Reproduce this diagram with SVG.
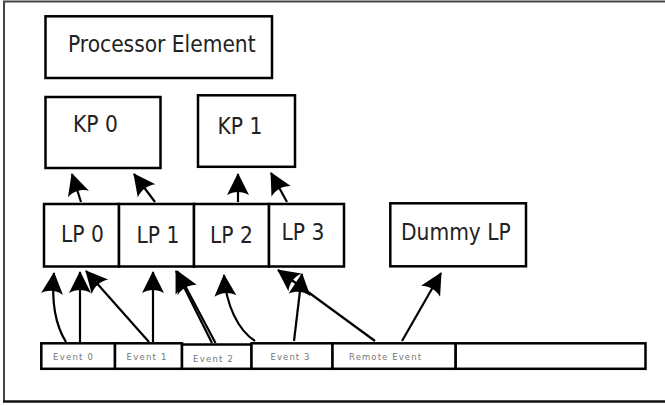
<svg xmlns="http://www.w3.org/2000/svg" width="665" height="406" viewBox="0 0 665 406">
<style>
.box{fill:#fff;stroke:#000;stroke-width:2.5}
.lbl{font-family:"DejaVu Sans Condensed","DejaVu Sans",sans-serif;font-stretch:condensed;font-size:22.5px;fill:#222}
.ev{font-family:"DejaVu Sans",sans-serif;font-size:8.5px;fill:#777}
.con{fill:none;stroke:#000;stroke-width:2.2;marker-end:url(#ah)}
</style>
<defs>
<marker id="ah" markerUnits="userSpaceOnUse" orient="auto" viewBox="-26 -13 30 26" markerWidth="30" markerHeight="26" refX="0" refY="0">
<path d="M1,0 L-21,-11 C-17,-4 -17,4 -21,11 Z" fill="#000"/>
</marker>
</defs>
<rect width="665" height="406" fill="#fff"/>
<path d="M4,402 L4,1.5 L665,1.5" fill="none" stroke="#444" stroke-width="2"/>
<path d="M3,401.5 L665,401.5" fill="none" stroke="#111" stroke-width="2.5"/>
<g id="pe"><rect class="box" x="45.5" y="16.3" width="226.5" height="61.7"/><text class="lbl" x="68" y="52">Processor Element</text></g>
<g id="kp0"><rect class="box" x="45.5" y="97" width="115" height="71"/><text class="lbl" x="73" y="132">KP 0</text></g>
<g id="kp1"><rect class="box" x="198" y="95.3" width="97" height="71.5"/><text class="lbl" x="217.5" y="134">KP 1</text></g>
<g id="lp0"><rect class="box" x="44" y="204" width="75" height="62.5"/><text class="lbl" x="61" y="241.5">LP 0</text></g>
<g id="lp1"><rect class="box" x="119" y="204" width="75" height="62.5"/><text class="lbl" x="136.5" y="242.5">LP 1</text></g>
<g id="lp2"><rect class="box" x="194" y="204" width="75" height="62.5"/><text class="lbl" x="210" y="242.5">LP 2</text></g>
<g id="lp3"><rect class="box" x="269" y="204" width="75" height="62.5"/><text class="lbl" x="281.5" y="240">LP 3</text></g>
<g id="dummy"><rect class="box" x="390.3" y="203.3" width="135.7" height="63"/><text class="lbl" x="401" y="240">Dummy LP</text></g>
<g id="ev0"><rect class="box" x="41.3" y="343.3" width="73.7" height="25.5"/><text class="ev" x="53" y="360" textLength="40">Event 0</text></g>
<g id="ev1"><rect class="box" x="115" y="343.3" width="67" height="25.5"/><text class="ev" x="126.5" y="360" textLength="40">Event 1</text></g>
<g id="ev2"><rect class="box" x="182" y="344.5" width="69.5" height="24.3"/><text class="ev" x="193" y="362" textLength="40">Event 2</text></g>
<g id="ev3"><rect class="box" x="251.5" y="343.3" width="81" height="25.5"/><text class="ev" x="270.5" y="360" textLength="39">Event 3</text></g>
<g id="remote"><rect class="box" x="332.5" y="343.3" width="123.2" height="25.5"/><text class="ev" x="349" y="360" textLength="72">Remote Event</text></g>
<g id="blank"><rect class="box" x="455.7" y="343.3" width="189.8" height="25.5"/></g>
<g id="connectors">
<path class="con" d="M81,202 L72,174"/>
<path class="con" d="M155,202 L134,174"/>
<path class="con" d="M238,202 L238,174"/>
<path class="con" d="M287,202 L271,173"/>
<path class="con" d="M66,342 C56,326 51,305 54,273"/>
<path class="con" d="M80,342 L80,272"/>
<path class="con" d="M149,342 L86,271"/>
<path class="con" d="M153,342 L153,272"/>
<path class="con" d="M212,343 L176,271"/>
<path class="con" d="M215.5,343 L177.5,271.5"/>
<path class="con" d="M255,341 C238,330 226,305 224,275"/>
<path class="con" d="M294,341 L302,274"/>
<path class="con" d="M375,341 L278,270"/>
<path class="con" d="M402,341 L441,273"/>
</g>
</svg>
